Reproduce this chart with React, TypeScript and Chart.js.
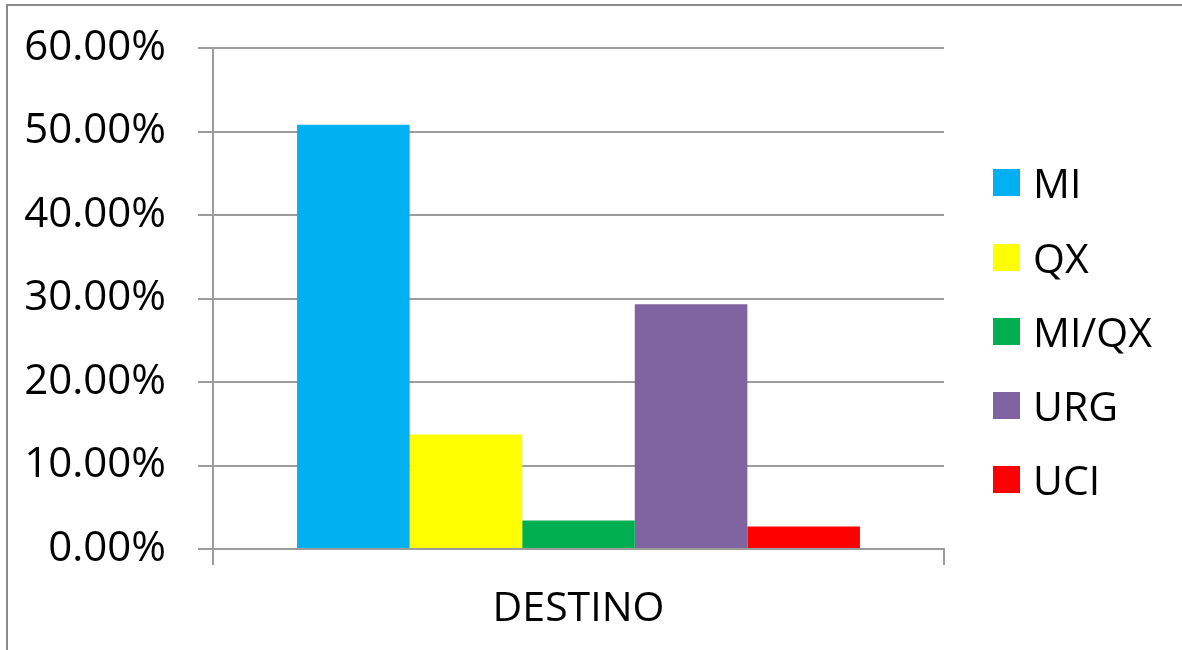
import React, { useEffect, useRef } from "react";
import { Chart, registerables } from "chart.js";

Chart.register(...registerables);

const categories = ["DESTINO"];
const seriesNames = ["MI", "QX", "MI/QX", "URG", "UCI"];
const seriesValues = [50.8, 13.7, 3.4, 29.3, 2.7];
const seriesColors = ["#00B0F0", "#FFFF00", "#00B050", "#8064A2", "#FF0000"];
const yMin = 0;
const yMax = 60;
const yStep = 10;

const FONT = "'Open Sans', 'Noto Sans', sans-serif";
const GRID = "#9c9c9c";

export default function App() {
  const canvasRef = useRef<HTMLCanvasElement | null>(null);

  useEffect(() => {
    const canvas = canvasRef.current;
    if (!canvas) return;
    const chart = new Chart(canvas, {
      type: "bar",
      data: {
        labels: categories,
        datasets: seriesNames.map((name, i) => ({
          label: name,
          data: [seriesValues[i]],
          backgroundColor: seriesColors[i],
          borderWidth: 0,
          barPercentage: 1,
          categoryPercentage: 0.77,
        })),
      },
      options: {
        responsive: false,
        animation: false,
        maintainAspectRatio: false,
        layout: { padding: { left: 0, top: 48, right: 238, bottom: 0 } },
        plugins: {
          legend: { display: false },
          tooltip: { enabled: false },
          title: { display: false },
        },
        scales: {
          x: {
            offset: true,
            grid: {
              display: true,
              drawOnChartArea: false,
              drawTicks: true,
              tickLength: 16,
              color: GRID,
              lineWidth: 2,
              offset: true,
            },
            border: { display: true, color: GRID, width: 2 },
            ticks: {
              color: "#000",
              font: { family: FONT, size: 41 },
              padding: 20,
            },
            afterFit: (scale: any) => {
              scale.height = 101;
            },
          },
          y: {
            min: yMin,
            max: yMax,
            ticks: {
              stepSize: yStep,
              color: "#000",
              font: { family: FONT, size: 42 },
              padding: 32,
              callback: (v: any) => Number(v).toFixed(2) + "%",
            },
            grid: {
              color: GRID,
              lineWidth: 2,
              tickLength: 15,
              drawTicks: true,
            },
            border: { display: true, color: GRID, width: 2 },
            afterFit: (scale: any) => {
              scale.width = 213;
              scale.paddingTop = 0;
              scale.paddingBottom = 0;
            },
          },
        },
      },
    });
    return () => chart.destroy();
  }, []);

  const legendTops = [182, 257, 331, 405, 479];

  return (
    <div
      style={{
        position: "absolute",
        left: 0,
        top: 0,
        width: 1182,
        height: 650,
        background: "#fff",
        overflow: "hidden",
      }}
    >
      <div
        style={{
          position: "absolute",
          left: 6,
          top: 4,
          width: 1200,
          height: 700,
          borderTop: "2px solid #8a8a8a",
          borderLeft: "2px solid #8a8a8a",
        }}
      />
      <canvas
        ref={canvasRef}
        width={1182}
        height={650}
        style={{ position: "absolute", left: 0, top: 0, width: 1182, height: 650 }}
      />
      {seriesNames.map((name, i) => (
        <div
          key={name}
          style={{
            position: "absolute",
            left: 993,
            top: legendTops[i] - 30,
            height: 60,
            display: "flex",
            alignItems: "center",
            fontFamily: FONT,
            fontSize: 41,
            color: "#000",
            whiteSpace: "nowrap",
          }}
        >
          <span
            style={{
              display: "inline-block",
              width: 27,
              height: 27,
              background: seriesColors[i],
              marginRight: 13,
            }}
          />
          <span style={{ lineHeight: "60px" }}>{name}</span>
        </div>
      ))}
    </div>
  );
}
